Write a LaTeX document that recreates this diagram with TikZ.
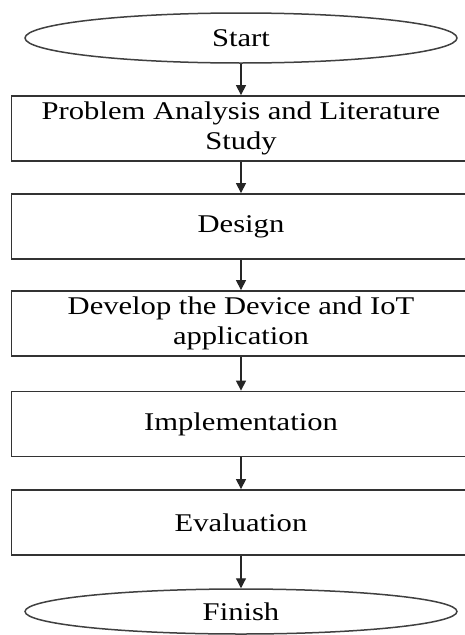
\documentclass[tikz,border=0pt]{standalone}
\usepackage{graphicx}
\usepackage{fontspec}
\setmainfont{Liberation Serif}
\usetikzlibrary{shapes.geometric,arrows.meta}
\newcommand{\hs}[1]{\scalebox{1.2}[1]{#1}}
\begin{document}
\begin{tikzpicture}[x=1pt,y=-1pt,
  box/.style={draw=black!80, line width=1.8pt, rectangle, fill=white,
    minimum width=459pt, minimum height=65pt, inner sep=0pt, align=center,
    font=\fontsize{25.5}{29.5}\selectfont, text=black},
  term/.style={draw=black!75, line width=1.5pt, ellipse, fill=white,
    minimum width=432pt, minimum height=50pt, inner sep=0pt,
    font=\fontsize{25.5}{29.5}\selectfont, text=black},
  arr/.style={draw=black!85, line width=1.2pt, -{Triangle[width=10pt,length=10pt]}}]
\useasboundingbox (0,0) rectangle (465,635);
\fill[white] (0,0) rectangle (465,635);
\node[term] (start) at (241,38) {\hs{Start}};
\node[box] (b1) at (241,128.5) {\hs{Problem Analysis and Literature}\\\hs{Study}};
\node[box] (b2) at (241,226.5) {\hs{Design}};
\node[box] (b3) at (241,323.5) {\hs{Develop the Device and IoT}\\\hs{application}};
\node[box] (b4) at (241,424) {\hs{Implementation}};
\node[box] (b5) at (241,522.5) {\hs{Evaluation}};
\node[term, minimum height=45pt] (fin) at (241,611.5) {\hs{Finish}};
\draw[arr] (start) -- (b1);
\draw[arr] (b1) -- (b2);
\draw[arr] (b2) -- (b3);
\draw[arr] (b3) -- (b4);
\draw[arr] (b4) -- (b5);
\draw[arr] (b5) -- (fin);
\end{tikzpicture}
\end{document}
